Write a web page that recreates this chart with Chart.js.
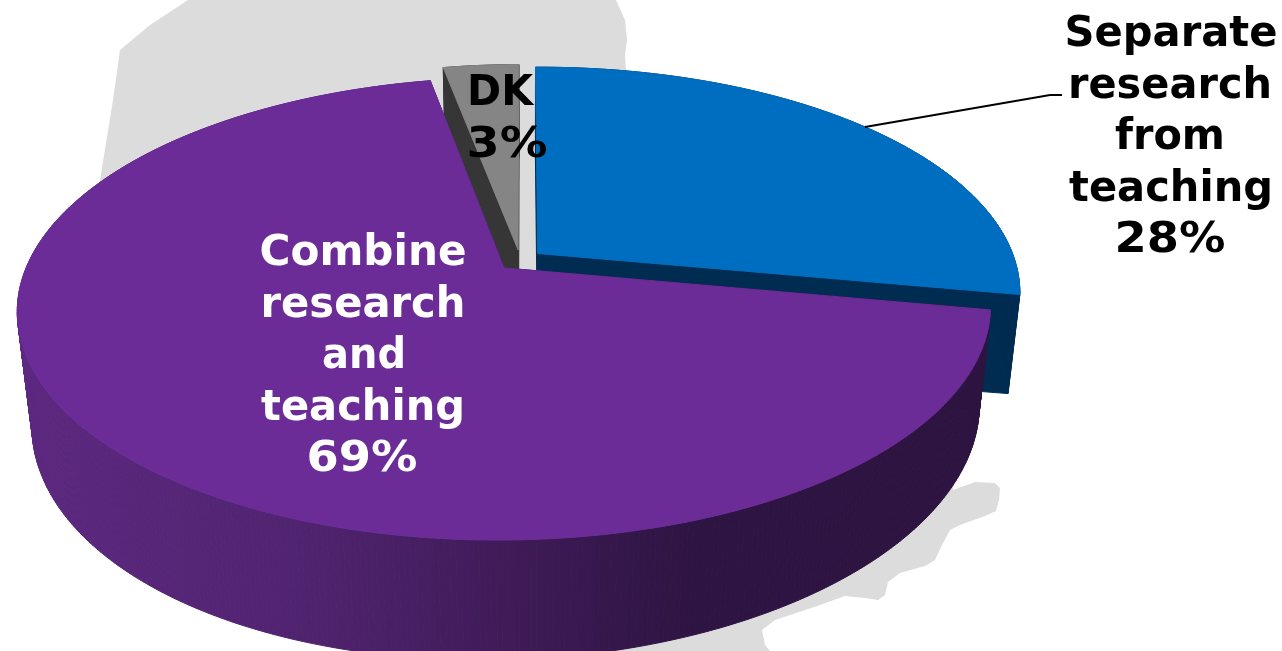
<!DOCTYPE html>
<html>
<head>
<meta charset="utf-8">
<title>Research and teaching</title>
<script src="https://cdn.jsdelivr.net/npm/chart.js@4"></script>
<style>
    html, body { margin: 0; padding: 0; background: #fff; overflow: hidden; }
    canvas { display: block; }
</style>
</head>
<body>
<canvas id="pie" width="1282" height="651"></canvas>
<script>
// Chart data, clockwise from 12 o'clock
const categories = ['Separate research from teaching', 'Combine research and teaching', 'DK'];
const shares = [28, 69, 3];
const topColors = ['#006ec0', '#6b2c98', '#858585'];
const wallColors = ['#012c52', '#2d1340', '#363636'];

// Perspective of the pie plane, fitted to the picture
const VIEW = { cx: 504, cy: 268, a: 479, b: 224, e: 0.177, shiftU: 0.034, shiftV: -0.034, tilt: -3 };
const DEPTH = { vx: 533, vy: 4358, horizon: -1000, k: 0.000021 };

function project(u, v) {
    const U = u + VIEW.shiftU;
    const V = v + VIEW.shiftV;
    const d = 1 - VIEW.e * V;
    return [VIEW.cx + VIEW.a * U / d, VIEW.cy + (VIEW.b * V + VIEW.tilt * U) / d];
}

function lower(p) {
    // the pie gets a bit thinner towards the right
    const l = DEPTH.k * (p[1] - DEPTH.horizon) * (0.97 - 0.07 * (p[0] - VIEW.cx) / 490);
    return [p[0] + (DEPTH.vx - p[0]) * l, p[1] + (DEPTH.vy - p[1]) * l];
}

function fillPoly(ctx, pts, color, edge) {
    ctx.beginPath();
    pts.forEach((p, i) => i ? ctx.lineTo(p[0], p[1]) : ctx.moveTo(p[0], p[1]));
    ctx.closePath();
    ctx.fillStyle = color;
    ctx.fill();
    if (edge) {
        ctx.strokeStyle = color;
        ctx.lineWidth = 1;
        ctx.stroke();
    }
}

function sliceOutline(el) {
    const R = el.outerRadius;
    const off = (el.options.offset || 0) / 4 / R; // same explode distance ArcElement uses
    const mid = (el.startAngle + el.endAngle) / 2;
    const ou = Math.cos(mid) * off;
    const ov = Math.sin(mid) * off;
    const steps = Math.max(8, Math.ceil((el.endAngle - el.startAngle) / 0.01));
    const arc = [];
    for (let i = 0; i <= steps; i++) {
        const t = el.startAngle + (el.endAngle - el.startAngle) * i / steps;
        arc.push(project(ou + Math.cos(t), ov + Math.sin(t)));
    }
    return { apex: project(ou, ov), arc };
}

const pie3d = {
    id: 'pie3d',
    beforeDatasetDraw(chart, args) {
        const ctx = chart.ctx;
        const items = args.meta.data;
        ctx.save();

        // back to front: DK, separate, combine
        [2, 0, 1].forEach(i => {
            const { apex, arc } = sliceOutline(items[i]);
            let wall = wallColors[i];
            if (i === 1) {
                wall = ctx.createLinearGradient(16, 0, 990, 0);
                wall.addColorStop(0, '#5c2880');
                wall.addColorStop(0.3, '#50236f');
                wall.addColorStop(0.5, '#3f1b58');
                wall.addColorStop(0.7, '#2e1442');
                wall.addColorStop(1, '#2d1340');
            }
            const first = arc[0];
            const last = arc[arc.length - 1];
            fillPoly(ctx, [apex, first, lower(first), lower(apex)], wall, true);
            fillPoly(ctx, [apex, last, lower(last), lower(apex)], wall, true);
            for (let s = 0; s < arc.length - 1; s++) {
                fillPoly(ctx, [arc[s], arc[s + 1], lower(arc[s + 1]), lower(arc[s])], wall, true);
            }
            fillPoly(ctx, [apex].concat(arc), topColors[i], true);
        });

        ctx.restore();
        return false;
    }
};

// grey map behind the pie
const backdrop = {
    id: 'backdrop',
    beforeDraw(chart) {
        const shape = [[188, 0], [616, 0], [625, 20], [627, 40], [625, 55], [626, 70], [800, 200], [960, 420],
            [953, 490], [975, 482], [995, 483], [1000, 488], [999, 500], [996, 511], [985, 516], [960, 525],
            [950, 530], [942, 545], [935, 560], [925, 566], [900, 573], [888, 582], [885, 595], [878, 600],
            [865, 598], [845, 596], [820, 605], [775, 620], [762, 630], [765, 645], [770, 651], [600, 651],
            [300, 400], [100, 180], [113, 100], [120, 50], [150, 25]];
        fillPoly(chart.ctx, shape, '#dcdcdc', false);
    }
};

// labels and the leader line, each line squeezed to the width it has in the picture
const labelBlocks = [
    { lines: ['Separate', 'research', 'from', 'teaching', '28%'], widths: [213, 204, 110, 204, 111], x: [1171, 1170, 1170, 1171, 1170], y: 46, color: '#000' },
    { lines: ['Combine', 'research', 'and', 'teaching', '69%'], widths: [207, 205, 84, 204, 111], x: [363, 363, 364, 363, 362], y: 265, color: '#fff' },
    { lines: ['DK', '3%'], widths: [66, 81], x: [500, 507], y: 105, color: '#000' }
];

const labels3d = {
    id: 'labels3d',
    afterDraw(chart) {
        const ctx = chart.ctx;
        ctx.save();
        ctx.strokeStyle = '#000';
        ctx.lineWidth = 2;
        ctx.beginPath();
        ctx.moveTo(865, 127);
        ctx.lineTo(1050, 95);
        ctx.lineTo(1062, 95);
        ctx.stroke();

        ctx.font = 'bold 43px "DejaVu Sans"';
        ctx.textAlign = 'center';
        ctx.textBaseline = 'alphabetic';
        labelBlocks.forEach(block => {
            ctx.fillStyle = block.color;
            block.lines.forEach((line, i) => {
                const natural = ctx.measureText(line).width;
                ctx.save();
                ctx.translate(block.x[i], block.y + i * 51.5);
                ctx.scale(block.widths[i] / natural, 1);
                ctx.fillText(line, 0, 0);
                ctx.restore();
            });
        });
        ctx.restore();
    }
};

new Chart(document.getElementById('pie'), {
    type: 'pie',
    data: {
        labels: categories,
        datasets: [{
            data: shares,
            backgroundColor: topColors,
            borderWidth: 0,
            offset: 57
        }]
    },
    options: {
        responsive: false,
        animation: false,
        rotation: 0.4,
        plugins: {
            legend: { display: false },
            tooltip: { enabled: false }
        }
    },
    plugins: [backdrop, pie3d, labels3d]
});
</script>
</body>
</html>
